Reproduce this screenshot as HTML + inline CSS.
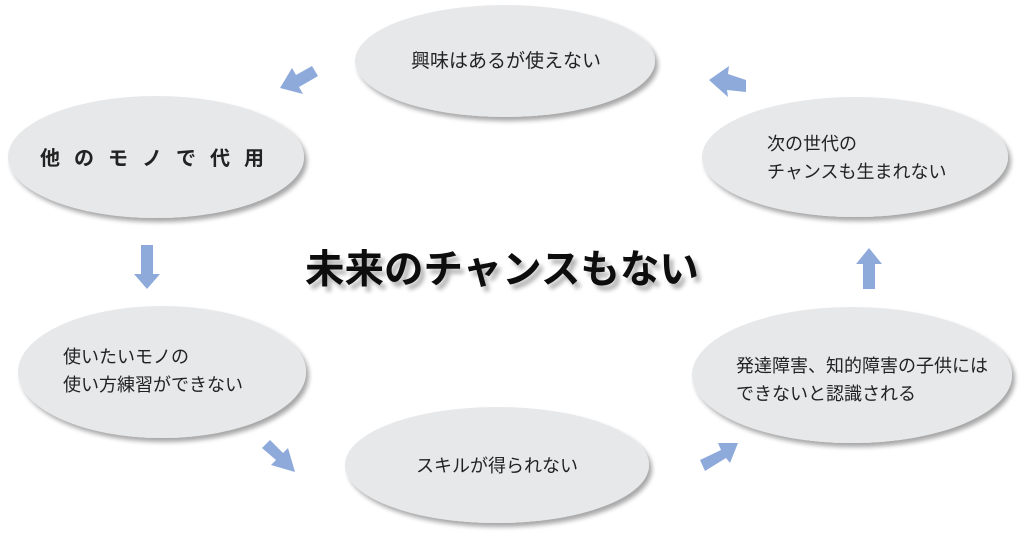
<!DOCTYPE html>
<html><head><meta charset="utf-8"><style>
html,body{margin:0;padding:0;background:#fff}
svg{display:block}
text{font-family:"Liberation Sans","Noto Sans CJK JP",sans-serif;fill:#222}
</style></head><body>
<svg width="1024" height="534" viewBox="0 0 1024 534" xmlns="http://www.w3.org/2000/svg">
<defs>
<filter id="sh" x="-10%" y="-10%" width="125%" height="130%">
<feGaussianBlur in="SourceAlpha" stdDeviation="2.5"/>
<feOffset dx="3" dy="4" result="b"/>
<feComponentTransfer><feFuncA type="linear" slope="0.35"/></feComponentTransfer>
<feMerge><feMergeNode/><feMergeNode in="SourceGraphic"/></feMerge>
</filter>
<filter id="ts" x="-5%" y="-30%" width="110%" height="180%">
<feGaussianBlur in="SourceAlpha" stdDeviation="2"/>
<feOffset dx="4" dy="5"/>
<feComponentTransfer><feFuncA type="linear" slope="0.3"/></feComponentTransfer>
<feMerge><feMergeNode/><feMergeNode in="SourceGraphic"/></feMerge>
</filter>
</defs>
<g fill="#e7e8ea" filter="url(#sh)">
<ellipse cx="505" cy="61" rx="150" ry="56"/>
<ellipse cx="156" cy="157" rx="148" ry="61"/>
<ellipse cx="162" cy="372" rx="144" ry="66"/>
<ellipse cx="497" cy="465" rx="152" ry="58"/>
<ellipse cx="852" cy="375" rx="160" ry="68"/>
<ellipse cx="855" cy="157" rx="153" ry="60"/>
</g>
<g font-size="18">
<text x="506" y="67" text-anchor="middle" font-size="19">興味はあるが使えない</text>
<text x="40" y="165" font-size="20" letter-spacing="14" font-weight="bold">他のモノで代用</text>
<text x="63" y="363">使いたいモノの</text>
<text x="63" y="391">使い方練習ができない</text>
<text x="497" y="472" text-anchor="middle">スキルが得られない</text>
<text x="736" y="372">発達障害、知的障害の子供には</text>
<text x="736" y="400">できないと認識される</text>
<text x="767" y="150">次の世代の</text>
<text x="767" y="178">チャンスも生まれない</text>
</g>
<text x="305" y="283" font-size="39.5" font-weight="bold" filter="url(#ts)" style="fill:#111">未来のチャンスもない</text>
<g fill="#8eaadb">
<polygon points="318,76 312,66 296,75 292,68 280,88 303,94 299,87 313,79"/>
<polygon points="746,80 746,92 727,90 728,97 709,80 729,66 728,74"/>
<polygon points="141,245 153,245 153,274 160,274 147,289 134,274 141,274"/>
<polygon points="262,448 270,440 283,453 288,448 295,472 271,465 276,460"/>
<polygon points="705,471 700,460 721,450 718,443 738,443 730,463 726,458"/>
<polygon points="863,289 875,289 875,264 882,264 869,248 856,264 863,264"/>
</g>
</svg>
</body></html>
